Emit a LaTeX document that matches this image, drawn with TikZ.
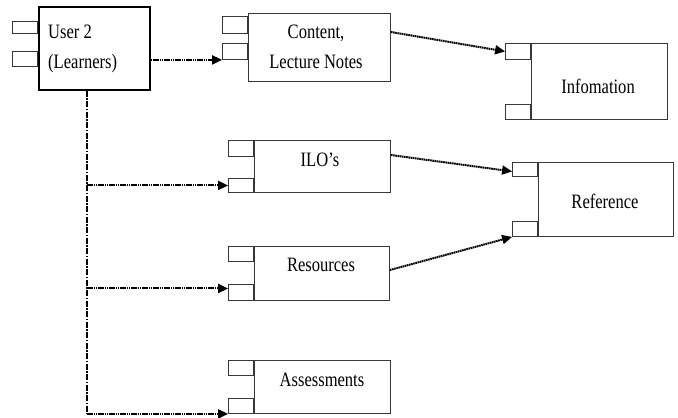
\documentclass[tikz,border=0pt]{standalone}
\usepackage{fontspec}
\setmainfont{Liberation Serif}[FakeStretch=0.81]
\usetikzlibrary{arrows.meta,calc}
\begin{document}
\begin{tikzpicture}[x=1bp,y=-1bp,
  box/.style={draw=black!78, line width=0.9bp, fill=white, inner sep=0pt, anchor=north west},
  tab/.style={draw=black!78, line width=0.9bp, fill=white, inner sep=0pt, anchor=north east, minimum width=25bp},
  lbl/.style={font=\fontsize{20.5}{30}\selectfont, align=center, inner sep=0pt, anchor=north},
  flow/.style={dash pattern=on 1.6bp off 0.6bp, line width=2bp, -{Triangle[length=10bp,width=9bp]}},
  trunk/.style={dash pattern=on 6bp off 1.5bp on 1.5bp off 1.5bp, line width=1.3bp}]
\useasboundingbox[fill=white] (0,0) rectangle (678,417);

% User 2
\node[box, draw=black, line width=1.8bp, minimum width=111bp, minimum height=83bp] (user) at (38,6) {};
\node[tab, minimum height=12bp] (user-t1) at (38,21) {};
\node[tab, minimum height=15bp] (user-t2) at (38,51) {};
\node[lbl, align=left, anchor=north west] (user-l) at (48,25) {User 2\\(Learners)};

% Content
\node[box, minimum width=142bp, minimum height=68bp] (cont) at (248,13) {};
\node[tab, minimum height=17bp] (cont-t1) at (248,16) {};
\node[tab, minimum height=16bp] (cont-t2) at (248,43) {};
\node[lbl] (cont-l) at (316,25) {Content,\\Lecture Notes};

% Information
\node[box, minimum width=136bp, minimum height=76bp] (info) at (531,43) {};
\node[tab, minimum height=16bp] (info-t1) at (531,43) {};
\node[tab, minimum height=15bp] (info-t2) at (531,104) {};
\node[lbl] (info-l) at (598,79) {Infomation};

% ILO's
\node[box, minimum width=136bp, minimum height=52bp] (ilo) at (254,140) {};
\node[tab, minimum height=16bp] (ilo-t1) at (254,140) {};
\node[tab, minimum height=14bp] (ilo-t2) at (254,178) {};
\node[lbl] (ilo-l) at (320,153) {ILO’s};

% Reference
\node[box, minimum width=135bp, minimum height=74bp] (ref) at (538,162) {};
\node[tab, minimum height=14bp] (ref-t1) at (538,162) {};
\node[tab, minimum height=15bp] (ref-t2) at (538,221) {};
\node[lbl] (ref-l) at (605,194) {Reference};

% Resources
\node[box, minimum width=135bp, minimum height=54bp] (res) at (254,246) {};
\node[tab, minimum height=15bp] (res-t1) at (254,246) {};
\node[tab, minimum height=16bp] (res-t2) at (254,284) {};
\node[lbl] (res-l) at (321,258) {Resources};

% Assessments
\node[box, minimum width=136bp, minimum height=53bp] (as) at (254,360) {};
\node[tab, minimum height=15bp] (as-t1) at (254,360) {};
\node[tab, minimum height=15bp] (as-t2) at (254,398) {};
\node[lbl] (as-l) at (322,373) {Assessments};

% connectors
\coordinate (tk) at (87,0);
\draw[trunk] (user.south -| tk) -- (tk |- as-t2.south west);
\draw[flow] (user.east |- cont-t2.south west) -- (cont-t2.south west);
\draw[flow] ($(cont.north east)+(0,19)$) -- (info-t1.west);
\draw[flow] ($(ilo.north east)+(0,15)$) -- ($(ref-t1.west)+(0,2)$);
\draw[flow] ($(res.north east)+(0,24)$) -- (ref-t2.south west);
\draw[flow] (tk |- ilo-t2.west) -- (ilo-t2.west);
\draw[flow] ($(tk |- res-t2.west)+(0,-4)$) -- ($(res-t2.west)+(0,-4)$);
\draw[flow] (tk |- as-t2.south west) -- (as-t2.south west);
\end{tikzpicture}
\end{document}
